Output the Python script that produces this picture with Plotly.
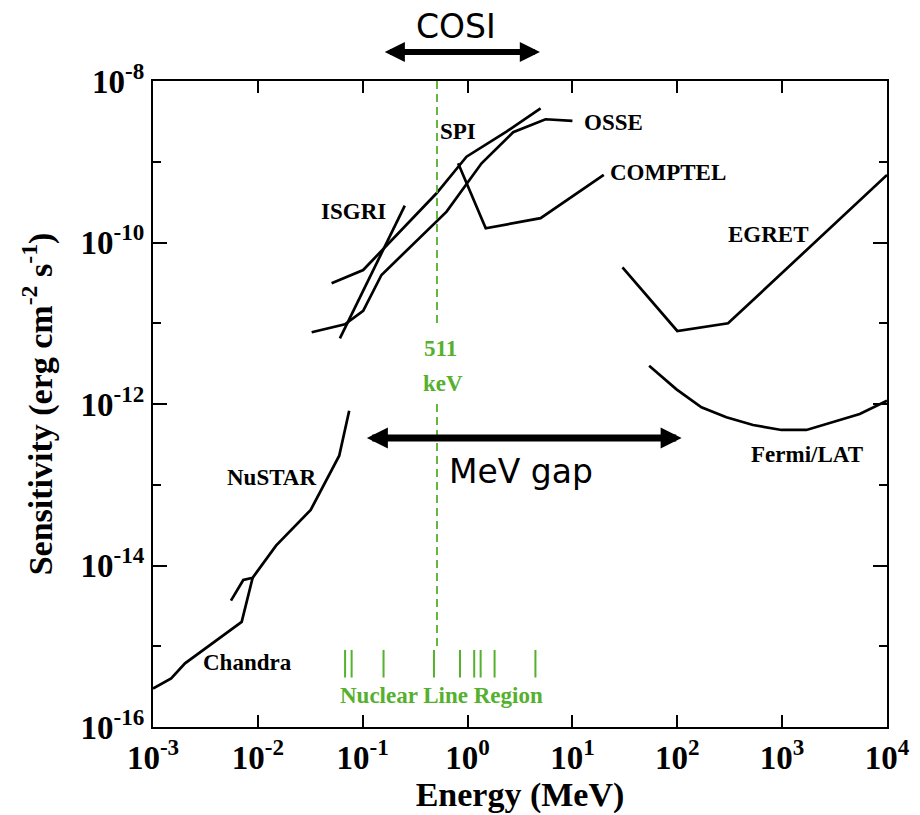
import numpy as np
import plotly.graph_objects as go

# ---------------- data (energy in MeV, sensitivity in erg cm^-2 s^-1) ----------------
chandra_E = [0.001, 0.00149, 0.00202, 0.00701, 0.00892]
chandra_S = [3.0e-16, 4.0e-16, 6.15e-16, 2.0e-15, 7.06e-15]

nustar_E = [0.00554, 0.00726, 0.00892, 0.0149, 0.0319, 0.0597, 0.0743]
nustar_S = [3.67e-15, 6.61e-15, 7.06e-15, 1.76e-14, 4.87e-14, 2.29e-13, 8.26e-13]

isgri_E = [0.0606, 0.252]
isgri_S = [6.51e-12, 2.86e-10]

spi_E = [0.0505, 0.101, 0.506, 0.977, 2.35, 4.97]
spi_S = [3.13e-11, 4.56e-11, 4.07e-10, 1.155e-9, 2.36e-9, 4.59e-9]

osse_E = [0.0326, 0.0677, 0.101, 0.151, 0.631, 1.36, 2.72, 5.54, 10.0]
osse_S = [7.73e-12, 9.70e-12, 1.42e-11, 3.96e-11, 2.41e-10, 9.57e-10, 2.32e-9, 3.36e-9, 3.20e-9]

comptel_E = [0.813, 1.49, 4.97, 19.9]
comptel_S = [9.57e-10, 1.50e-10, 2.00e-10, 6.86e-10]

egret_E = [30.0, 100.0, 305.0, 1.0e4]
egret_S = [4.93e-11, 8.02e-12, 9.98e-12, 6.86e-10]

fermi_E = [53.9, 98.3, 170, 294, 528, 985, 1706, 3057, 5496, 1.0e4]
fermi_S = [2.98e-12, 1.52e-12, 9.10e-13, 6.84e-13, 5.50e-13, 4.77e-13, 4.77e-13,
           5.93e-13, 7.52e-13, 1.10e-12]

nuclear_lines_E = [0.0679, 0.0784, 0.158, 0.478, 0.847, 1.157, 1.332, 1.809, 4.438]
nuclear_lines_S = [4.1e-16, 9.0e-16]          # vertical extent of the tick marks

line_511_E = 0.511
line_511_S_upper = [1e-8, 1e-11]
line_511_S_lower = [1e-12, 1e-15]

mev_gap_E = [0.106, 110.0]
mev_gap_S = 3.8e-13
cosi_E = [0.157, 4.9]

x_tick_vals = [1e-3, 1e-2, 1e-1, 1e0, 1e1, 1e2, 1e3, 1e4]
x_tick_text = ["10<sup>-3</sup>", "10<sup>-2</sup>", "10<sup>-1</sup>", "10<sup>0</sup>",
               "10<sup>1</sup>", "10<sup>2</sup>", "10<sup>3</sup>", "10<sup>4</sup>"]
y_tick_vals = [1e-16, 1e-14, 1e-12, 1e-10, 1e-8]
y_tick_text = ["10<sup>-16</sup>", "10<sup>-14</sup>", "10<sup>-12</sup>",
               "10<sup>-10</sup>", "10<sup>-8</sup>"]
y_minor_vals = [1e-15, 1e-13, 1e-11, 1e-9]

# instrument labels: (text, energy, sensitivity)
labels = [
    ("ISGRI", 0.0824, 2.45e-10),
    ("SPI", 0.808, 2.40e-9),
    ("OSSE", 24.7, 3.06e-9),
    ("COMPTEL", 82.4, 7.36e-10),
    ("EGRET", 734, 1.24e-10),
    ("Fermi/LAT", 1735, 2.40e-13),
    ("NuSTAR", 0.01354, 1.23e-13),
    ("Chandra", 7.96e-3, 6.21e-16),
]
green_labels = [
    ("511", 0.553, 4.93e-12),
    ("keV", 0.585, 1.82e-12),
    ("Nuclear Line Region", 0.565, 2.49e-16),
]

GREEN = "#55B02D"
SERIF = "Liberation Serif"

fig = go.Figure()

def add_curve(E, S, name):
    fig.add_trace(go.Scatter(x=E, y=S, mode="lines", name=name,
                             line=dict(color="black", width=2.7),
                             showlegend=False, hoverinfo="skip"))

for E, S, n in [(chandra_E, chandra_S, "Chandra"), (nustar_E, nustar_S, "NuSTAR"),
                (isgri_E, isgri_S, "ISGRI"), (spi_E, spi_S, "SPI"),
                (osse_E, osse_S, "OSSE"), (comptel_E, comptel_S, "COMPTEL"),
                (egret_E, egret_S, "EGRET"), (fermi_E, fermi_S, "Fermi/LAT")]:
    add_curve(E, S, n)

# 511 keV dashed line
fig.add_trace(go.Scatter(
    x=[line_511_E, line_511_E, None, line_511_E, line_511_E],
    y=line_511_S_upper + [None] + line_511_S_lower,
    mode="lines", line=dict(color=GREEN, width=1.8, dash="8px,5px"),
    showlegend=False, hoverinfo="skip"))

# nuclear lines
nx, ny = [], []
for e in nuclear_lines_E:
    nx += [e, e, None]
    ny += nuclear_lines_S + [None]
fig.add_trace(go.Scatter(x=nx, y=ny, mode="lines", line=dict(color=GREEN, width=2),
                         showlegend=False, hoverinfo="skip"))

for txt, e, s in labels:
    fig.add_annotation(x=np.log10(e), y=np.log10(s), xref="x", yref="y", text=txt,
                       showarrow=False, xanchor="center", yanchor="middle",
                       font=dict(family=SERIF, size=23, color="black", weight="bold"))
for txt, e, s in green_labels:
    fig.add_annotation(x=np.log10(e), y=np.log10(s), xref="x", yref="y", text=txt,
                       showarrow=False, xanchor="center", yanchor="middle",
                       font=dict(family=SERIF, size=23, color=GREEN, weight="bold"))

# MeV gap arrow
fig.add_annotation(x=np.log10(mev_gap_E[1]), y=np.log10(mev_gap_S),
                   ax=np.log10(mev_gap_E[0]), ay=np.log10(mev_gap_S),
                   xref="x", yref="y", axref="x", ayref="y", text="",
                   showarrow=True, arrowside="end+start", arrowhead=2, startarrowhead=2,
                   arrowwidth=7, arrowsize=0.6, startarrowsize=0.6, arrowcolor="black",
                   standoff=0, startstandoff=0)
fig.add_annotation(x=np.log10(3.22), y=np.log10(1.44e-13), xref="x", yref="y",
                   text="MeV gap", showarrow=False, xanchor="center", yanchor="middle",
                   font=dict(family="DejaVu Sans", size=33, color="black"))

# COSI arrow (above plot)
fig.add_annotation(x=np.log10(cosi_E[1]), y=1.045, ax=np.log10(cosi_E[0]), ay=0,
                   xref="x", yref="paper", axref="x", ayref="pixel", text="",
                   showarrow=True, arrowside="end+start", arrowhead=2, startarrowhead=2,
                   arrowwidth=6, arrowsize=0.67, startarrowsize=0.67, arrowcolor="black",
                   standoff=0, startstandoff=0)
fig.add_annotation(x=np.log10(0.773), y=1.084, xref="x", yref="paper",
                   text="COSI", showarrow=False, xanchor="center", yanchor="middle",
                   font=dict(family="DejaVu Sans", size=33, color="black"))

tickfont = dict(family=SERIF, size=33, color="black", weight="bold")
titlefont = dict(family=SERIF, size=34, color="black", weight="bold")

fig.update_xaxes(type="log", range=[-3, 4], tickmode="array", tickvals=x_tick_vals,
                 ticktext=x_tick_text, ticks="inside", ticklen=12, tickwidth=2,
                 tickcolor="black", showline=True, linecolor="black", linewidth=2.2,
                 mirror="ticks", showgrid=False, zeroline=False, tickfont=tickfont,
                 title=dict(text="Energy (MeV)", font=titlefont, standoff=3))
fig.update_yaxes(type="log", range=[-16, -8], tickmode="array", tickvals=y_tick_vals,
                 ticktext=y_tick_text, ticks="inside", ticklen=14, tickwidth=2,
                 tickcolor="black", showline=True, linecolor="black", linewidth=2.2,
                 mirror="ticks", showgrid=False, zeroline=False, tickfont=tickfont,
                 minor=dict(tickvals=y_minor_vals, ticks="inside", ticklen=8,
                            tickwidth=2, tickcolor="black", showgrid=False),
                 title=dict(text="Sensitivity (erg cm<sup>-2</sup> s<sup>-1</sup>)",
                            font=titlefont, standoff=18))

# the page body adds an 8px offset, so the figure is 8px smaller with margins shifted
fig.update_layout(width=912, height=807,
                  margin=dict(l=145, r=33, t=73, b=88, autoexpand=False),
                  plot_bgcolor="white", paper_bgcolor="white", showlegend=False)

fig.write_html("out.html")
